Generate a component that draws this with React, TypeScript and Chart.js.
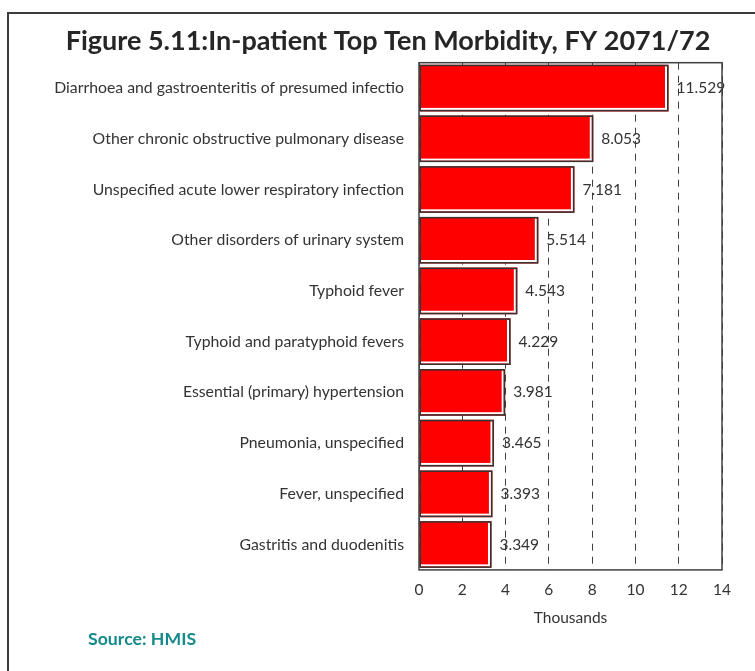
import React, { useEffect, useRef } from "react";
import { Chart, registerables } from "chart.js";

Chart.register(...registerables);

const categories = [
  "Diarrhoea and gastroenteritis of presumed infectio",
  "Other chronic obstructive pulmonary disease",
  "Unspecified acute lower respiratory infection",
  "Other disorders of urinary system",
  "Typhoid fever",
  "Typhoid and paratyphoid fevers",
  "Essential (primary) hypertension",
  "Pneumonia, unspecified",
  "Fever, unspecified",
  "Gastritis and duodenitis",
];
const values = [11.529, 8.053, 7.181, 5.514, 4.543, 4.229, 3.981, 3.465, 3.393, 3.349];
const xMin = 0;
const xMax = 14;
const xStep = 2;
const titleText = "Figure 5.11:In-patient Top Ten Morbidity, FY 2071/72";
const axisTitle = "Thousands";
const sourceText = "Source: HMIS";

const FONT = "Lato, 'Open Sans', sans-serif";

const decorPlugin = {
  id: "decor",
  beforeDraw(chart: any) {
    const ctx = chart.ctx;
    ctx.save();
    ctx.fillStyle = "#ffffff";
    ctx.fillRect(0, 0, chart.width, chart.height);
    ctx.strokeStyle = "#3c3c3c";
    ctx.lineWidth = 2;
    ctx.beginPath();
    ctx.moveTo(8, chart.height);
    ctx.lineTo(8, 13);
    ctx.lineTo(chart.width, 13);
    ctx.stroke();
    ctx.restore();
  },
  afterDatasetsDraw(chart: any) {
    const ctx = chart.ctx;
    const meta = chart.getDatasetMeta(0);
    ctx.save();
    meta.data.forEach((el: any, i: number) => {
      const { x, y, base, height } = el.getProps(["x", "y", "base", "height"], true);
      const left = Math.min(base, x);
      const right = Math.max(base, x);
      const top = y - height / 2;
      const bottom = y + height / 2;
      ctx.fillStyle = "#ffffff";
      ctx.fillRect(right - 3.5, top + 1.5, 2, height - 3);
      ctx.fillRect(left + 1.5, bottom - 3.5, right - left - 3, 2);
      ctx.strokeStyle = "#333333";
      ctx.lineWidth = 1.5;
      ctx.strokeRect(left + 0.75, top + 0.75, right - left - 1.5, height - 1.5);
      ctx.fillStyle = "#333333";
      ctx.font = `15.5px ${FONT}`;
      ctx.textBaseline = "middle";
      ctx.textAlign = "left";
      ctx.fillText(values[i].toFixed(3), right + 8, y);
    });
    const a = chart.chartArea;
    ctx.strokeStyle = "#404040";
    ctx.lineWidth = 1.5;
    ctx.strokeRect(a.left, a.top, a.right - a.left, a.bottom - a.top);
    ctx.fillStyle = "#168a8a";
    ctx.font = `bold 17.7px ${FONT}`;
    ctx.textAlign = "left";
    ctx.textBaseline = "middle";
    ctx.fillText(sourceText, 88, 639);
    ctx.restore();
  },
};

export default function App() {
  const ref = useRef<HTMLCanvasElement | null>(null);
  useEffect(() => {
    let chart: Chart | null = null;
    let cancelled = false;
    const make = () => {
      if (cancelled || !ref.current) return;
      chart = new Chart(ref.current, {
        type: "bar",
        data: {
          labels: categories,
          datasets: [
            {
              data: values,
              backgroundColor: "#ff0000",
              borderWidth: 0,
              barPercentage: 0.92,
              categoryPercentage: 1,
            },
          ],
        },
        options: {
          indexAxis: "y",
          animation: false,
          responsive: false,
          layout: { padding: { left: 54, right: 33, top: 0, bottom: 0 } },
          plugins: {
            legend: { display: false },
            tooltip: { enabled: false },
            title: {
              display: true,
              text: titleText,
              color: "#262626",
              font: { family: FONT, size: 27, weight: "bold", lineHeight: 1.2 },
              padding: { top: 25.3, bottom: 5.0 },
            },
          },
          scales: {
            x: {
              type: "linear",
              min: xMin,
              max: xMax,
              ticks: {
                stepSize: xStep,
                color: "#333333",
                font: { family: FONT, size: 15.5, lineHeight: 1.2 },
                padding: 11,
              },
              grid: {
                color: "#404040",
                lineWidth: 1,
                drawTicks: false,
              },
              border: { display: false, dash: [7, 6] },
              title: {
                display: true,
                text: axisTitle,
                color: "#333333",
                font: { family: FONT, size: 15.5, lineHeight: 1 },
                padding: { top: 0, bottom: 45 },
              },
            },
            y: {
              type: "category",
              ticks: {
                color: "#333333",
                font: { family: FONT, size: 15.8, lineHeight: 1.2 },
                padding: 15,
                autoSkip: false,
              },
              grid: { display: false, drawTicks: false },
              border: { display: false },
              afterFit: (scale: any) => {
                scale.width = 365;
              },
            },
          },
        },
        plugins: [decorPlugin],
      });
    };
    const fontsAny: any = (document as any).fonts;
    if (fontsAny && fontsAny.load) {
      Promise.all([
        fontsAny.load(`14px Lato`),
        fontsAny.load(`bold 24px Lato`),
      ]).then(make, make);
    } else {
      make();
    }
    return () => {
      cancelled = true;
      if (chart) chart.destroy();
    };
  }, []);
  return (
    <div style={{ position: "absolute", left: 0, top: 0, width: 755, height: 671 }}>
      <canvas ref={ref} width={755} height={671} style={{ width: 755, height: 671, display: "block" }} />
    </div>
  );
}
